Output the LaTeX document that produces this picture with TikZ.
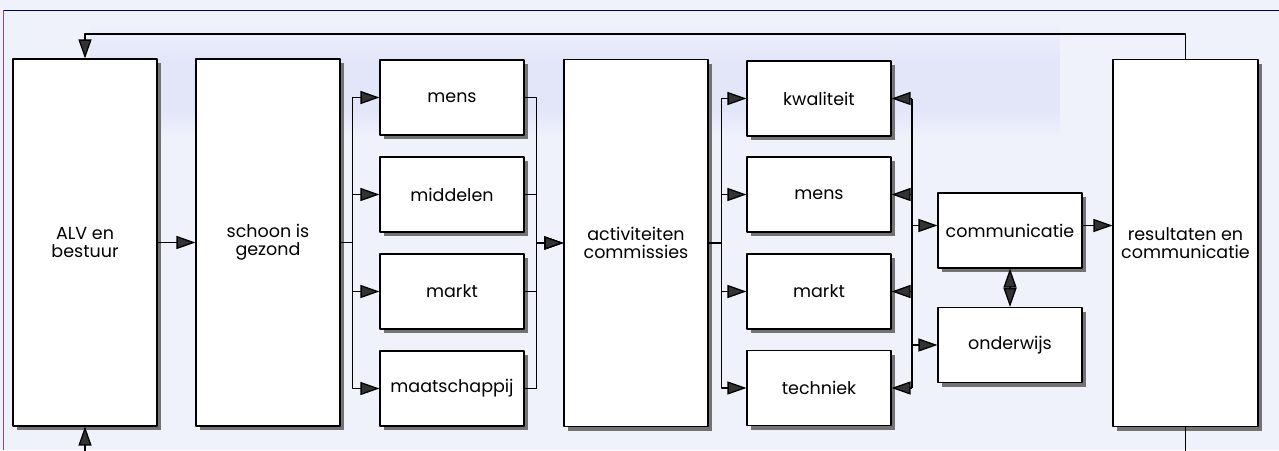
\documentclass[tikz,border=0pt]{standalone}
\usepackage{fontspec}
\setmainfont{Poppins}
\usetikzlibrary{arrows.meta,shadows}
\definecolor{papier}{RGB}{240,242,251}
\definecolor{band}{RGB}{227,230,249}
\tikzset{
	punt/.tip={Triangle[length=19pt,width=13pt,fill=black!80]},
	blok/.style={draw, line width=1.1pt, fill=white, align=center, inner sep=2pt,
		drop shadow={shadow xshift=4pt, shadow yshift=-4pt, fill=black!55, opacity=1}},
	hoog/.style={blok, minimum width=144pt, minimum height=367pt},
	klein/.style={blok, minimum width=144pt, minimum height=75pt},
	pijl/.style={-punt, line width=1.3pt},
	dubbelpijl/.style={punt-punt, line width=1.3pt},
	lijn/.style={line width=1.3pt}
}
\begin{document}
\begin{tikzpicture}[x=1pt, y=-1pt, font=\fontsize{17.5}{18}\selectfont, line join=round]
	\useasboundingbox (0,0) rectangle (1279,450);
	% achtergrond
	\fill[papier] (0,0) rectangle (1279,450);
	\shade[top color=papier, bottom color=band] (90,18) rectangle (1060,60);
	\fill[band] (90,60) rectangle (1060,110);
	\shade[top color=band, bottom color=papier] (90,110) rectangle (1060,140);
	\draw[blue!40!black, line width=0.8pt] (3,10) -- (1279,10);
	\draw[magenta!60!black, line width=0.8pt] (3,10) -- (3,450);
	% blokken
	\node[hoog] (alv) at (85,242.5) {ALV en\\bestuur};
	\node[hoog] (schoon) at (268,242.5) {schoon is\\gezond};
	\node[klein] (mens) at (452,97.5) {mens};
	\node[klein] (middelen) at (452,194.5) {middelen};
	\node[klein] (markt) at (452,291.5) {markt};
	\node[klein] (maatschappij) at (452,388.5) {maatschappij};
	\node[hoog] (activiteiten) at (636,243) {activiteiten\\commissies};
	\node[klein] (kwaliteit) at (819,98.5) {kwaliteit};
	\node[klein] (mens2) at (819,194.5) {mens};
	\node[klein] (markt2) at (819,291.5) {markt};
	\node[klein] (techniek) at (819,388) {techniek};
	\node[klein] (communicatie) at (1010,230.5) {communicatie};
	\node[klein] (onderwijs) at (1010,345) {onderwijs};
	\node[hoog, minimum width=145pt] (resultaten) at (1185.5,243) {resultaten en\\communicatie};
	% verbindingen
	\draw[pijl] (alv) -- (schoon);
	\foreach \n in {mens,middelen,markt,maatschappij}{
		\draw[pijl] (schoon.east) -- ++(12,0) |- (\n.west);
		\draw[pijl] (\n.east) -- ++(12,0) |- (activiteiten.west);
	}
	\foreach \n in {kwaliteit,mens2,markt2,techniek}
		\draw[pijl] (activiteiten.east) -- ++(13,0) |- (\n.west);
	\coordinate (rbus) at (912,0);
	\draw[lijn] (rbus |- kwaliteit.east) -- (rbus |- techniek.east);
	\foreach \n in {kwaliteit,mens2,markt2,techniek}
		\draw[pijl] (rbus |- \n.east) -- (\n.east);
	\draw[pijl] ([yshift=5pt]rbus |- communicatie.west) -- ([yshift=5pt]communicatie.west);
	\draw[pijl] (rbus |- onderwijs.west) -- (onderwijs.west);
	\draw[dubbelpijl] (communicatie) -- (onderwijs);
	\draw[pijl] ([yshift=5pt]communicatie.east) -- ([yshift=5pt]communicatie.east -| resultaten.west);
	% terugkoppeling
	\draw[pijl] (resultaten.north) -- ++(0,-25) -| (alv.north);
	\draw[lijn] (resultaten.south) -- ++(0,24);
	\draw[pijl] (alv.south) ++(0,24) -- (alv.south);
\end{tikzpicture}
\end{document}
